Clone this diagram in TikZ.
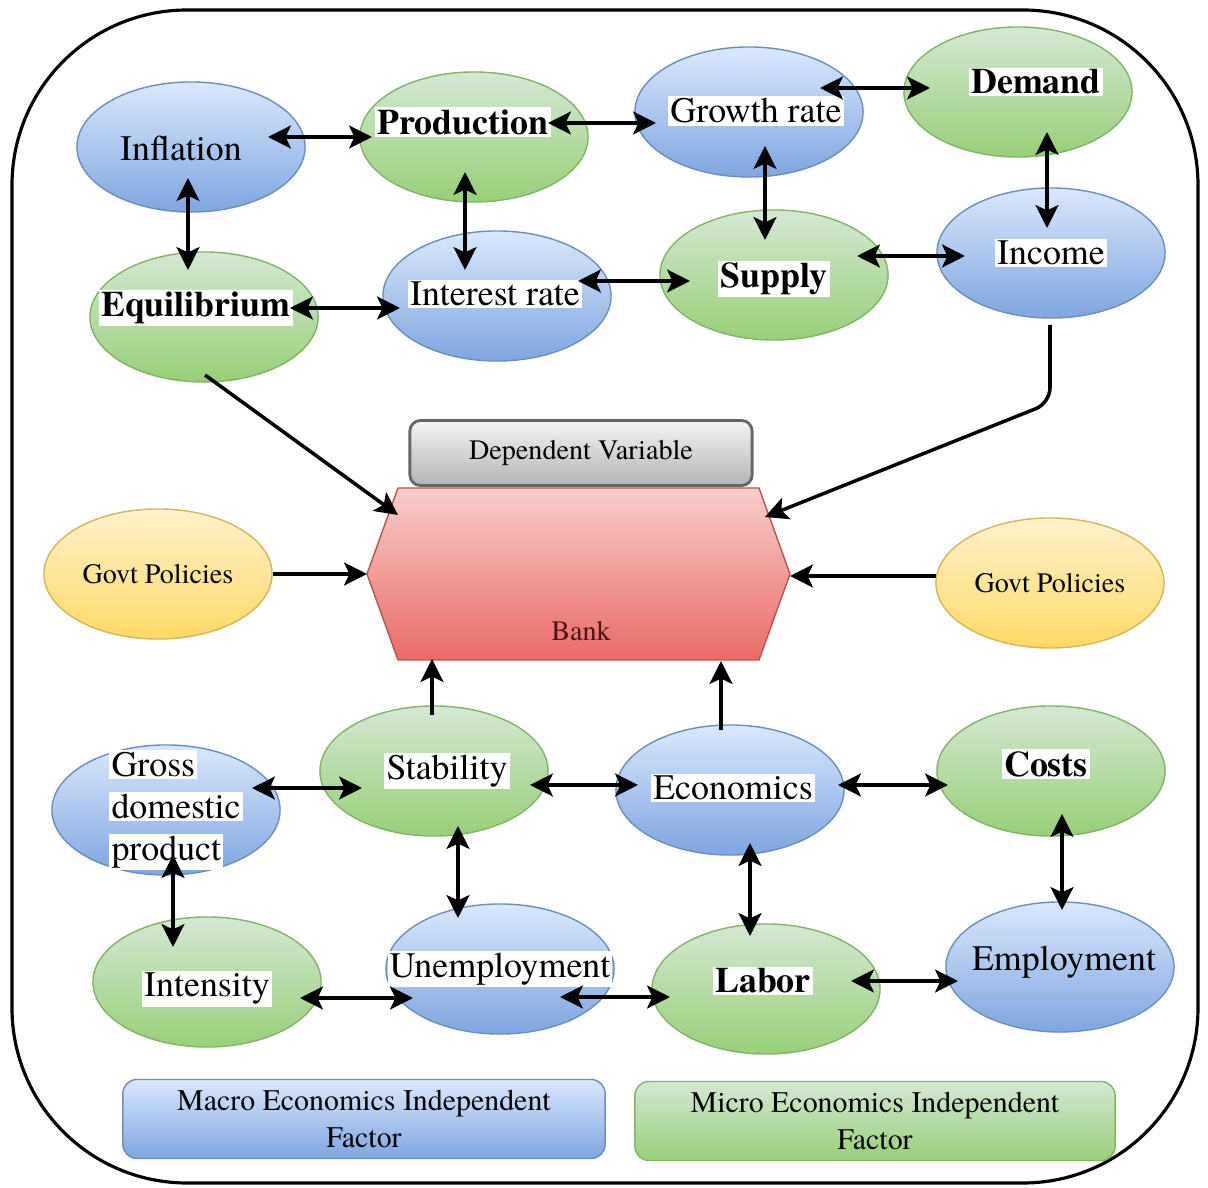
\documentclass[tikz,border=0pt]{standalone}
\usepackage{fontspec}
\setmainfont{texgyretermes}[Extension=.otf, UprightFont=*-regular, BoldFont=*-bold, ItalicFont=*-italic, BoldItalicFont=*-bolditalic]
\usetikzlibrary{shapes.geometric,arrows.meta}

% draw.io like colours
\definecolor{macrotop}{HTML}{DAE8FC}
\definecolor{macrobot}{HTML}{7EA6E0}
\definecolor{macroline}{HTML}{6C8EBF}
\definecolor{microtop}{HTML}{D5E8D4}
\definecolor{microbot}{HTML}{97D077}
\definecolor{microline}{HTML}{82B366}
\definecolor{govtop}{HTML}{FFF2CC}
\definecolor{govbot}{HTML}{FFD966}
\definecolor{govline}{HTML}{D6B656}
\definecolor{banktop}{HTML}{F8CECC}
\definecolor{bankbot}{HTML}{EA6B66}
\definecolor{bankline}{HTML}{B85450}
\definecolor{deptop}{HTML}{F5F5F5}
\definecolor{depbot}{HTML}{B3B3B3}
\definecolor{depline}{HTML}{666666}
\definecolor{bankink}{HTML}{4A1414}

\newcommand{\hl}[1]{{\setlength{\fboxsep}{0.6pt}\colorbox{white}{#1}}}

\tikzset{
  factor/.style={ellipse, minimum width=2.28cm, minimum height=1.3cm, inner sep=0pt},
  macro/.style={factor, draw=macroline, top color=macrotop, bottom color=macrobot},
  micro/.style={factor, draw=microline, top color=microtop, bottom color=microbot},
  govt/.style={factor, draw=govline, top color=govtop, bottom color=govbot},
  lbl/.style={inner sep=0pt, font=\fontsize{10.2}{12}\selectfont},
  blbl/.style={inner sep=0pt, font=\fontsize{10.2}{12}\selectfont\bfseries},
  slbl/.style={inner sep=0pt, font=\fontsize{8}{10}\selectfont},
  key/.style={rounded corners=4pt, minimum height=0.79cm, align=center, inner sep=0pt,
    font=\fontsize{8.5}{10.5}\selectfont},
  twoway/.style={line width=1pt, {Stealth[length=6.5pt,width=6.5pt,inset=1.5pt]}-{Stealth[length=6.5pt,width=6.5pt,inset=1.5pt]}},
  oneway/.style={line width=1pt, -{Stealth[length=6.5pt,width=6.5pt,inset=1.5pt]}},
}

\begin{document}
\begin{tikzpicture}[x=0.01cm, y=-0.01cm]
    \useasboundingbox (0,0) rectangle (1208,1188);

    % outer frame
    \draw[line width=0.9pt, rounded corners=1.75cm] (12,10) rectangle (1198,1183);

    % upper factors
    \node[macro, label={[lbl,shift={(-10,1)}]center:Inflation}] (infl) at (191,147) {};
    \node[micro, label={[blbl,shift={(-11,-15)}]center:\hl{Production}}] (prod) at (474,137) {};
    \node[macro, label={[lbl,shift={(7,-1)}]center:\hl{Growth rate}}] (grow) at (749,112) {};
    \node[micro, label={[blbl,shift={(18,-10)}]center:\hl{Demand}}] (dem) at (1018,92) {};
    \node[micro, label={[blbl,shift={(-8,-9)}]center:\hl{Equilibrium}}] (equi) at (204,317) {};
    \node[macro, label={[lbl,shift={(-2,-2)}]center:\hl{Interest rate}}] (intr) at (497,296) {};
    \node[micro, label={[blbl,shift={(0,4)}]center:\hl{Supply}}] (sup) at (774,275) {};
    \node[macro, label={[lbl]center:\hl{Income}}] (inc) at (1051,253) {};

    % government policies
    \node[govt, label={[slbl]center:Govt Policies}] (govl) at (158,574) {};
    \node[govt, label={[slbl]center:Govt Policies}] (govr) at (1050,583) {};

    % dependent variable and bank
    \node[draw=depline, line width=0.8pt, rounded corners=3pt, top color=deptop, bottom color=depbot,
      minimum width=3.42cm, minimum height=0.65cm, slbl] (dep) at (581,453) {Dependent Variable};
    \path[draw=bankline, top color=banktop, bottom color=bankbot]
      (398,488) -- (759,488) -- (790,574) -- (759,660) -- (398,660) -- (367,574) -- cycle;
    \node[slbl, text=bankink] (bank) at (581,631) {Bank};
    \coordinate (bkNW) at (398,515);
    \coordinate (bkNE) at (765,517);
    \coordinate (bkL) at (367,574);
    \coordinate (bkR) at (790,576);
    \coordinate (bkS1) at (432,659);
    \coordinate (bkS2) at (721,661);

    % lower factors
    \node[macro, label={[lbl,align=left,shift={(10,0)}]center:\hl{Gross}\\\hl{domestic}\\\hl{product}}] (gdp) at (166,810) {};
    \node[micro, label={[lbl,shift={(13,0)}]center:\hl{Stability}}] (stab) at (434,771) {};
    \node[macro, label={[lbl,shift={(3,-2)}]center:\hl{Economics}}] (econ) at (730,790) {};
    \node[micro, label={[blbl,shift={(-5,-7)}]center:\hl{Costs}}] (cost) at (1051,771) {};
    \node[micro, label={[lbl,shift={(0,7)}]center:\hl{Intensity}}] (inten) at (207,982) {};
    \node[macro, label={[lbl]center:\hl{Unemployment}}] (unemp) at (500,969) {};
    \node[micro, label={[blbl,shift={(-3,-8)}]center:\hl{Labor}}] (labor) at (766,989) {};
    \node[macro, label={[lbl,shift={(4,-5)}]center:Employment}] (emp) at (1060,967) {};

    % legend
    \node[key, draw=macroline, top color=macrotop, bottom color=macrobot, minimum width=4.82cm]
      (macrokey) at (364,1119) {Macro Economics Independent\\Factor};
    \node[key, draw=microline, top color=microtop, bottom color=microbot, minimum width=4.80cm]
      (microkey) at (875,1121) {Micro Economics Independent\\Factor};

    % links between upper factors
    \draw[twoway] ([shift={(77,-10)}]infl.center) -- ([shift={(-102,0)}]prod.center);
    \draw[twoway] ([shift={(74,-14)}]prod.center) -- ([shift={(-93,11)}]grow.center);
    \draw[twoway] ([shift={(71,-24)}]grow.center) -- ([shift={(-88,-4)}]dem.center);
    \draw[twoway] ([shift={(-3,31)}]infl.center) -- ([shift={(-16,-47)}]equi.center);
    \draw[twoway] ([shift={(-9,35)}]prod.center) -- ([shift={(-32,-26)}]intr.center);
    \draw[twoway] ([shift={(16,34)}]grow.center) -- ([shift={(-9,-35)}]sup.center);
    \draw[twoway] ([shift={(29,40)}]dem.center) -- ([shift={(-4,-25)}]inc.center);
    \draw[twoway] ([shift={(86,-9)}]equi.center) -- ([shift={(-97,12)}]intr.center);
    \draw[twoway] ([shift={(81,-15)}]intr.center) -- ([shift={(-84,6)}]sup.center);
    \draw[twoway] ([shift={(83,-19)}]sup.center) -- ([shift={(-86,3)}]inc.center);

    % links into the bank
    \draw[oneway] ([shift={(1,58)}]equi.center) -- (bkNW);
    \draw[oneway, rounded corners=0.15cm] ([shift={(-1,72)}]inc.center) -- ([shift={(-1,150)}]inc.center) -- (bkNE);
    \draw[oneway] (govl.east) -- (bkL);
    \draw[oneway] ([shift={(-114,-7)}]govr.center) -- (bkR);
    \draw[oneway] ([shift={(-2,-56)}]stab.center) -- (bkS1);
    \draw[oneway] ([shift={(-9,-60)}]econ.center) -- (bkS2);

    % links between lower factors
    \draw[twoway] ([shift={(86,-22)}]gdp.center) -- ([shift={(-72,17)}]stab.center);
    \draw[twoway] ([shift={(96,14)}]stab.center) -- ([shift={(-92,-5)}]econ.center);
    \draw[twoway] ([shift={(108,-5)}]econ.center) -- ([shift={(-103,14)}]cost.center);
    \draw[twoway] ([shift={(7,45)}]gdp.center) -- ([shift={(-34,-35)}]inten.center);
    \draw[twoway] ([shift={(24,55)}]stab.center) -- ([shift={(-42,-51)}]unemp.center);
    \draw[twoway] ([shift={(20,53)}]econ.center) -- ([shift={(-16,-53)}]labor.center);
    \draw[twoway] ([shift={(11,43)}]cost.center) -- ([shift={(2,-57)}]emp.center);
    \draw[twoway] ([shift={(93,16)}]inten.center) -- ([shift={(-87,29)}]unemp.center);
    \draw[twoway] ([shift={(60,28)}]unemp.center) -- ([shift={(-96,8)}]labor.center);
    \draw[twoway] ([shift={(85,-8)}]labor.center) -- ([shift={(-102,14)}]emp.center);
\end{tikzpicture}
\end{document}
